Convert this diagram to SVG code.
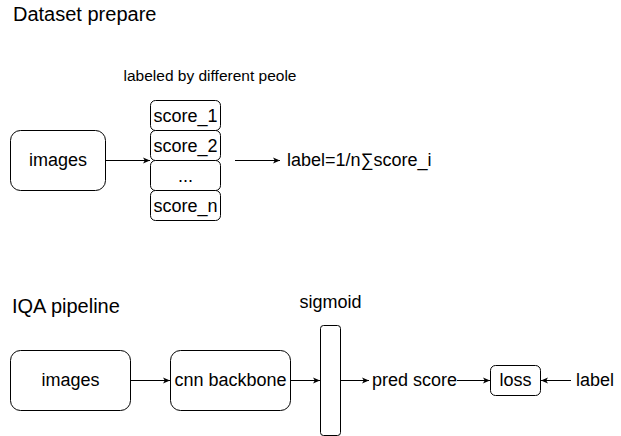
<svg xmlns="http://www.w3.org/2000/svg" width="621" height="436" viewBox="0 0 621 436">
  <defs>
    <style>
      .box { fill: #ffffff; stroke: #000000; stroke-width: 1; }
      .t { font-family: "Liberation Sans", Arial, sans-serif; font-size: 18px; fill: #000000; }
      .title { font-family: "Liberation Sans", Arial, sans-serif; font-size: 20px; fill: #000000; }
      .small { font-family: "Liberation Sans", Arial, sans-serif; font-size: 15.5px; fill: #000000; }
      .mid { text-anchor: middle; }
      .edge { stroke: #000000; stroke-width: 1; fill: none; }
    </style>
    <marker id="arr" viewBox="0 0 10 10" refX="9" refY="5" markerWidth="8" markerHeight="8" markerUnits="userSpaceOnUse" orient="auto">
      <path d="M0,1 L9,5 L0,9 L2.5,5 Z" fill="#000000"/>
    </marker>
  </defs>
  <rect width="621" height="436" fill="#ffffff"/>

  <text class="title" x="13" y="21">Dataset prepare</text>
  <text class="small mid" x="210" y="81">labeled by different peole</text>

  <g id="images1">
    <rect class="box" x="10.5" y="130.5" width="95" height="60" rx="10"/>
    <text class="t mid" x="58" y="166">images</text>
  </g>
  <g id="score1">
    <rect class="box" x="150.5" y="100.5" width="70" height="30" rx="5"/>
    <text class="t mid" x="185.5" y="122">score_1</text>
  </g>
  <g id="score2">
    <rect class="box" x="150.5" y="130.5" width="70" height="30" rx="5"/>
    <text class="t mid" x="185.5" y="152">score_2</text>
  </g>
  <g id="scoredots">
    <rect class="box" x="150.5" y="160.5" width="70" height="30" rx="5"/>
    <text class="t mid" x="185.5" y="182">...</text>
  </g>
  <g id="scoren">
    <rect class="box" x="150.5" y="190.5" width="70" height="30" rx="5"/>
    <text class="t mid" x="185.5" y="212">score_n</text>
  </g>
  <g id="formula">
    <text class="t" x="287" y="166">label=1/n∑score_i</text>
  </g>

  <text class="title" x="12" y="313">IQA pipeline</text>

  <g id="images2">
    <rect class="box" x="10.5" y="350.5" width="120" height="60" rx="10"/>
    <text class="t mid" x="70.5" y="386">images</text>
  </g>
  <g id="cnn">
    <rect class="box" x="170.5" y="350.5" width="120" height="60" rx="10"/>
    <text class="t mid" x="230.5" y="386">cnn backbone</text>
  </g>
  <g id="sigmoid">
    <rect class="box" x="320.5" y="325.5" width="20" height="110" rx="3"/>
    <text class="t mid" x="330.5" y="308">sigmoid</text>
  </g>
  <g id="pred">
    <text class="t" x="372" y="386">pred score</text>
  </g>
  <g id="loss">
    <rect class="box" x="490.5" y="365.5" width="50" height="30" rx="5"/>
    <text class="t mid" x="515.5" y="386">loss</text>
  </g>
  <g id="label">
    <text class="t" x="576" y="386">label</text>
  </g>

  <g id="connectors">
    <line class="edge" x1="106" y1="160.5" x2="150" y2="160.5" marker-end="url(#arr)"/>
    <line class="edge" x1="235" y1="160.5" x2="280" y2="160.5" marker-end="url(#arr)"/>
    <line class="edge" x1="131" y1="380.5" x2="170" y2="380.5" marker-end="url(#arr)"/>
    <line class="edge" x1="291" y1="380.5" x2="320" y2="380.5" marker-end="url(#arr)"/>
    <line class="edge" x1="341" y1="380.5" x2="369" y2="380.5" marker-end="url(#arr)"/>
    <line class="edge" x1="457" y1="380.5" x2="490" y2="380.5" marker-end="url(#arr)"/>
    <line class="edge" x1="571" y1="380.5" x2="541" y2="380.5" marker-end="url(#arr)"/>
  </g>
</svg>
